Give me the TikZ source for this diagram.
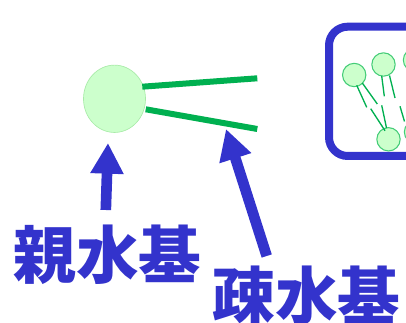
\documentclass[tikz,border=0pt]{standalone}
\usepackage{fontspec}
\newfontfamily\cjk{Noto Sans CJK JP}
\usetikzlibrary{arrows.meta,shapes.geometric}
\definecolor{labelblue}{HTML}{3333CC}
\definecolor{tailgreen}{HTML}{00B050}
\definecolor{headfill}{HTML}{CCFFCC}
\definecolor{headedge}{HTML}{A8EBA8}
\definecolor{smalledge}{HTML}{44CC77}
\tikzset{
  headball/.style={ellipse, fill=headfill, draw=headedge, line width=0.5pt, inner sep=0pt},
  smallhead/.style={circle, fill=headfill, draw=smalledge, line width=0.8pt, inner sep=0pt, minimum size=17.5pt},
  fattail/.style={draw=tailgreen, line width=4.5pt},
  thintail/.style={draw=tailgreen, line width=1pt},
  pointer/.style={draw=labelblue, line width=8pt, -{Triangle[length=23pt,width=23.5pt]}},
  label/.style={text=labelblue, font=\cjk\bfseries\fontsize{47pt}{47pt}\selectfont, inner sep=0pt},
  frame/.style={draw=labelblue, line width=6pt, rounded corners=14pt}
}
\begin{document}
\begin{tikzpicture}[x=0.75pt,y=-0.75pt]
  \useasboundingbox (0,0) rectangle (406,323);
  \clip (0,0) rectangle (406,323);

  % membrane close-up in a rounded frame
  \draw[frame] (329,26.7) rectangle (470,156);
  \node[smallhead] (s1) at (354.2,75) {};
  \node[smallhead] (s2) at (383.5,64.5) {};
  \node[smallhead] (s3) at (415,60) {};
  \node[smallhead] (s4) at (388.5,139.3) {};
  \node[smallhead] (s5) at (416,132) {};
  \coordinate (t1a) at (356.7,85.3);  \coordinate (u1a) at (366.7,107.3);
  \coordinate (t1b) at (362.3,83);    \coordinate (u1b) at (377.3,104);
  \coordinate (t2a) at (381.7,76);    \coordinate (u2a) at (384.3,96.3);
  \coordinate (t2b) at (389.5,75.5);  \coordinate (u2b) at (395,98);
  \coordinate (t4a) at (385,130.7);   \coordinate (u4a) at (370.7,108.7);
  \coordinate (t4b) at (386.5,128);   \coordinate (u4b) at (381.7,105.3);
  \coordinate (t5a) at (404.5,121.5); \coordinate (u5a) at (400,106.3);
  \draw[thintail] (t1a) -- (u1a) (t1b) -- (u1b) (t2a) -- (u2a) (t2b) -- (u2b)
                  (t4a) -- (u4a) (t4b) -- (u4b) (t5a) -- (u5a);

  % large amphiphile: head and two tails
  \coordinate (up0) at (142.3,86.7);  \coordinate (up1) at (257.3,78.3);
  \coordinate (lo0) at (145.7,109.3); \coordinate (lo1) at (257.3,129);
  \node[headball, minimum width=46.5pt, minimum height=50.5pt] (head) at (114.5,98.8) {};
  \draw[fattail] (up0) -- (up1);
  \draw[fattail] (lo0) -- (lo1);

  % labels and pointers
  \node[label, text depth=0pt, text height=0.86em, anchor=south] (hydrophilic) at (107.5,279) {親水基};
  \node[label, text depth=0pt, text height=0.86em, anchor=south] (hydrophobic) at (306.5,320) {疎水基};
  \coordinate (p1s) at (105.8,210);  \coordinate (p1t) at (108,143);
  \coordinate (p2s) at (266.7,256);  \coordinate (p2t) at (226,129);
  \draw[pointer] (p1s) -- (p1t);
  \draw[pointer] (p2s) -- (p2t);
\end{tikzpicture}
\end{document}
